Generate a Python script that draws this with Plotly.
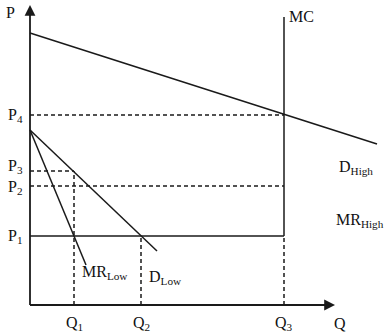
import plotly.graph_objects as go

# Economic quantities (data units: origin at the axes' corner)
q_ticks = {"Q<sub>1</sub>": 44, "Q<sub>2</sub>": 111, "Q<sub>3</sub>": 254}
p_ticks = {"P<sub>1</sub>": 69, "P<sub>2</sub>": 119, "P<sub>3</sub>": 134, "P<sub>4</sub>": 190}
p_label_shift = {"P<sub>1</sub>": 0, "P<sub>2</sub>": -1, "P<sub>3</sub>": 5, "P<sub>4</sub>": 0}
Q1, Q2, Q3 = 44, 111, 254
P1, P2, P3, P4 = 69, 119, 134, 190

d_high_x = [0, 347]
d_high_y = [272, 161]
d_low_x = [0, 127]
d_low_y = [175, 54]
mr_low_x = [0, 56]
mr_low_y = [175, 40]
mc_top = 288
x_axis_end = 305
y_axis_end = 300

ink = "#1a1a1a"
font = dict(family="Liberation Serif, Times New Roman, serif", size=16, color="#111")

fig = go.Figure()

def line(xs, ys, dash="solid", width=1.5):
    fig.add_trace(go.Scatter(x=xs, y=ys, mode="lines",
                             line=dict(color=ink, width=width, dash=dash),
                             hoverinfo="skip", showlegend=False))

# Curves
line(d_high_x, d_high_y)
line(d_low_x, d_low_y)
line(mr_low_x, mr_low_y)
line([Q3, Q3], [P1, mc_top])            # MC
line([0, Q3], [P1, P1])                 # P1 horizontal (MR_High)
line([Q3, Q3], [0, P1], dash="4px,3px")
line([0, Q3], [P4, P4], dash="4px,3px")
line([0, Q3], [P2, P2], dash="4px,3px")
line([0, Q1], [P3, P3], dash="4px,3px")
line([Q1, Q1], [0, P3], dash="4px,3px")
line([Q2, Q2], [0, P1], dash="4px,3px")

# Axes with arrowheads
line([0, x_axis_end - 4], [0, 0], width=1.8)
line([0, 0], [0, y_axis_end - 4], width=1.8)
fig.add_annotation(x=x_axis_end, y=0, ax=x_axis_end - 12, ay=0, xref="x", yref="y",
                   axref="x", ayref="y", showarrow=True, arrowhead=2, arrowsize=1.2,
                   arrowwidth=1.8, arrowcolor=ink, text="")
fig.add_annotation(x=0, y=y_axis_end, ax=0, ay=y_axis_end - 12, xref="x", yref="y",
                   axref="x", ayref="y", showarrow=True, arrowhead=2, arrowsize=1.2,
                   arrowwidth=1.8, arrowcolor=ink, text="")

def label(x, y, text, xanchor="center", yanchor="middle", yshift=0):
    fig.add_annotation(x=x, y=y, text=text, showarrow=False, font=font,
                       xanchor=xanchor, yanchor=yanchor, yshift=yshift)

label(-20, 293, "P")
for t, v in p_ticks.items():
    label(-5, v, t, xanchor="right", yshift=p_label_shift[t])
for t, v in q_ticks.items():
    label(v, -18, t)
label(310, -18, "Q")
label(257, 289, "MC", xanchor="left")
label(307, 138, "D<sub>High</sub>", xanchor="left")
label(304, 85, "MR<sub>High</sub>", xanchor="left")
label(50, 33, "MR<sub>Low</sub>", xanchor="left")
label(117, 28, "D<sub>Low</sub>", xanchor="left")

fig.update_layout(
    width=387, height=334,
    margin=dict(l=0, r=0, t=0, b=0),
    paper_bgcolor="white", plot_bgcolor="white",
    xaxis=dict(range=[-30, 357], visible=False, fixedrange=True),
    yaxis=dict(range=[-29, 305], visible=False, fixedrange=True),
    showlegend=False,
)

fig.write_html("out.html")
